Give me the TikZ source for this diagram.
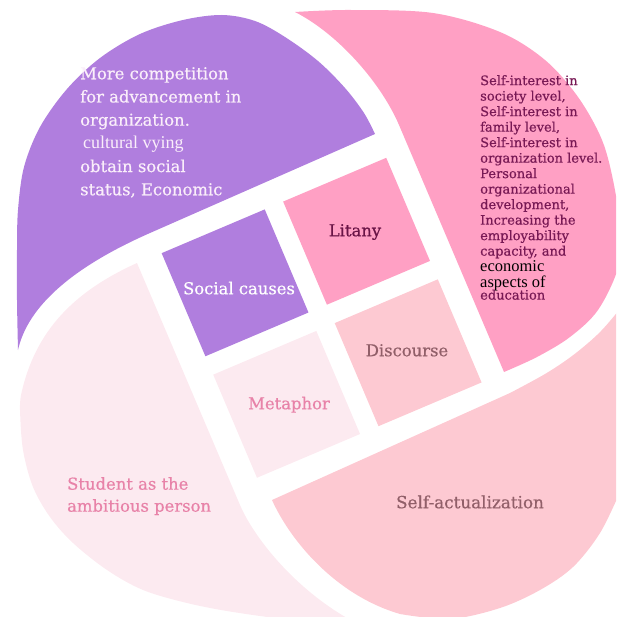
\documentclass[tikz,border=0pt]{standalone}
\usepackage{fontspec}
\setmainfont{DejaVu Serif}[FakeBold=0.5]
\newfontfamily\tmsfont{Liberation Serif}
\definecolor{cPurple}{RGB}{176,126,222}
\definecolor{cPink}{RGB}{255,160,196}
\definecolor{cRose}{RGB}{253,201,210}
\definecolor{cBlush}{RGB}{252,234,240}
\definecolor{tLight}{RGB}{250,238,250}
\definecolor{tMagenta}{RGB}{120,25,85}
\definecolor{tLitany}{RGB}{105,20,70}
\definecolor{tMauve}{RGB}{145,95,105}
\definecolor{tPink}{RGB}{232,130,168}
\begin{document}
\begin{tikzpicture}[x=1pt,y=-1pt,
  lbl/.style={inner sep=0pt, anchor=center, text height=1.5ex, text depth=0.25ex,
              font=\fontsize{16.4}{18}\selectfont},
  block/.style={inner sep=0pt, anchor=north west, align=left}]
\useasboundingbox (0,0) rectangle (616,617);
\begin{scope}
\clip (0,0) rectangle (616,617);
% purple petal (top-left)
\fill[cPurple] (375,134) -- (150,233) .. controls (75,266) and (28,305) .. (18,350)
  -- plot[smooth,tension=0.55] coordinates {(18,350) (17,300) (17,250) (18,210) (24,167)
     (40,127) (67,89) (100,58) (140,34) (183,20) (222,15) (255,21) (285,37) (318,61)
     (345,88) (364,113) (375,134)} -- cycle;
% pink petal (top-right)
\fill[cPink] (504,372) -- (399,125) .. controls (382,85) and (340,35) .. (295,12)
  -- plot[smooth,tension=0.55] coordinates {(295,12) (350,10) (433,13) (500,32) (545,60)
     (578,97) (602,140) (614,185) (620,230) (618,268) (598,310) (570,337) (537,357)
     (504,372)} -- cycle;
% rose petal (bottom-right)
\fill[cRose] (272,500) -- (510,393)
  -- plot[smooth,tension=0.55] coordinates {(510,393) (545,374) (572,356) (597,335)
     (615,315) (630,295)} -- (650,295) -- (650,490)
  -- plot[smooth,tension=0.55] coordinates {(620,492) (600,533) (573,567) (540,590)
     (500,608) (450,619) (400,614)}
  .. controls (335,595) and (290,540) .. (272,500) -- cycle;
% blush petal (bottom-left)
\fill[cBlush] (137,263) -- (240,505) .. controls (255,540) and (300,595) .. (360,625)
  -- plot[smooth,tension=0.55] coordinates {(360,625) (300,621) (233,612) (187,603)
     (143,590) (107,570) (73,543) (50,517) (33,487) (23,450) (20,410) (21,395)}
  .. controls (35,330) and (75,291) .. (137,263) -- cycle;
\end{scope}
% central squares
\begin{scope}[shift={(321.6,317.8)}, rotate=23]
  \fill[cPurple] (-122,-122) rectangle (-10,-10);
  \fill[cPink]   (10,-122) rectangle (122,-10);
  \fill[cRose]   (10,10) rectangle (122,122);
  \fill[cBlush]  (-122,10) rectangle (-10,122);
\end{scope}
% labels
\node[lbl, text=white] (soc) at (239,291) {Social causes};
\node[lbl, text=tLitany, font=\fontsize{16.4}{18}\selectfont] (lit) at (355,233) {Litany};
\node[lbl, text=tMauve] (dis) at (407,353) {Discourse};
\node[lbl, text=tPink] (met) at (289,406) {Metaphor};
\node[lbl, text=tMauve, font=\fontsize{16.8}{18}\selectfont] (sa) at (470,505) {Self-actualization};
\node[block, text=tLight, font=\fontsize{16.4}{23.2}\selectfont] (pt) at (80,67)
  {More competition\\for advancement in\\organization.\\
   \hspace{3pt}{\tmsfont\fontsize{18}{23}\selectfont cultural vying}\\obtain social\\status, Economic};
\node[block, text=tMagenta, font=\fontsize{13}{15.5}\selectfont] (pk) at (480,75)
  {Self-interest in\\society level,\\Self-interest in\\family level,\\Self-interest in\\
   organization level.\\Personal\\organizational\\development,\\Increasing the\\
   employability\\capacity, and\\
   {\color{black}\tmsfont\fontsize{16.5}{17}\selectfont economic}\\[1pt]
   {\color{black}\tmsfont\fontsize{16.5}{17}\selectfont aspects of}\\[-3.5pt]education};
\node[block, text=tPink, font=\fontsize{16.4}{22}\selectfont] (st) at (67,477)
  {Student as the\\ambitious person};
\end{tikzpicture}
\end{document}
